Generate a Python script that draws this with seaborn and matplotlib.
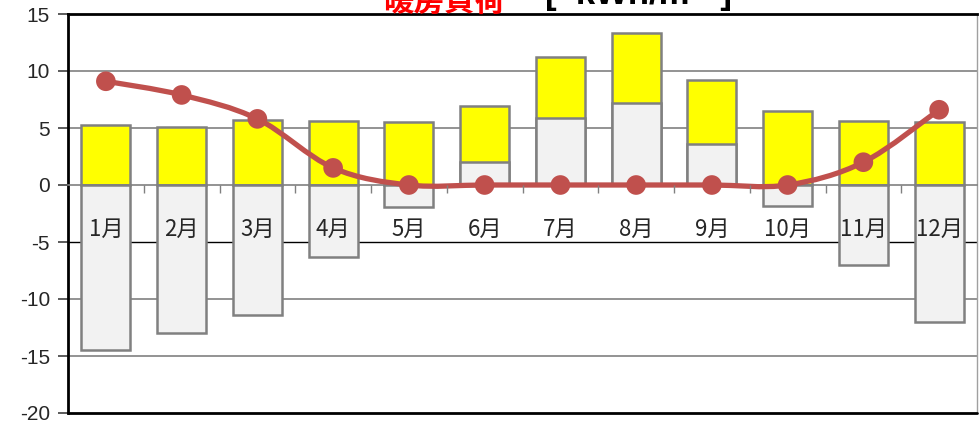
import numpy as np
import matplotlib
matplotlib.use("Agg")
import matplotlib.pyplot as plt
from matplotlib.path import Path
from matplotlib.patches import PathPatch
import seaborn as sns

# ---- data ----
months = ["1月", "2月", "3月", "4月", "5月", "6月", "7月", "8月", "9月", "10月", "11月", "12月"]
gray_vals = [-14.5, -13.0, -11.4, -6.3, -1.9, 2.0, 5.9, 7.2, 3.6, -1.8, -7.0, -12.0]
yellow_vals = [5.3, 5.1, 5.7, 5.6, 5.5, 4.9, 5.3, 6.1, 5.6, 6.5, 5.6, 5.5]
line_vals = [9.1, 7.9, 5.8, 1.5, 0.0, 0.0, 0.0, 0.0, 0.0, 0.0, 2.0, 6.6]
title_red = "暖房負荷"
title_black = "[  kWh/m²  ]"
yticks = [-20, -15, -10, -5, 0, 5, 10, 15]

sns.set_theme(style="white")
plt.rcParams["font.family"] = ["Liberation Sans", "Noto Sans CJK JP", "DejaVu Sans"]

fig = plt.figure(figsize=(9.8, 4.25), dpi=100)
ax = fig.add_axes([68 / 980, 12 / 425, (977 - 68) / 980, (412 - 13) / 425])

# stacked bars: yellow drawn full height first, gray on top
totals = [max(g, 0) + y for g, y in zip(gray_vals, yellow_vals)]
sns.barplot(x=months, y=totals, color="#FFFF00", saturation=1, width=0.65,
            edgecolor="#808080", linewidth=1.8, ax=ax, zorder=2)
sns.barplot(x=months, y=gray_vals, color="#F2F2F2", saturation=1, width=0.65,
            edgecolor="#808080", linewidth=1.8, ax=ax, zorder=3)

# gridlines
for v in [10, 5, -10, -15]:
    ax.axhline(v, color="#808080", lw=1.2, zorder=0.5)
ax.axhline(-5, color="#000000", lw=1.0, zorder=0.5)
ax.axhline(-20, color="#000000", lw=2.0, zorder=5, clip_on=False)

# smoothed line (Catmull-Rom -> Bezier)
xs = np.arange(len(line_vals), dtype=float)
ys = np.array(line_vals, dtype=float)
P = np.column_stack([xs, ys])
Pext = np.vstack([P[0], P, P[-1]])
verts = [tuple(P[0])]
codes = [Path.MOVETO]
for i in range(len(P) - 1):
    p0, p1, p2, p3 = Pext[i], Pext[i + 1], Pext[i + 2], Pext[i + 3]
    c1 = p1 + (p2 - p0) / 6.0
    c2 = p2 - (p3 - p1) / 6.0
    verts += [tuple(c1), tuple(c2), tuple(p2)]
    codes += [Path.CURVE4, Path.CURVE4, Path.CURVE4]
ax.add_patch(PathPatch(Path(verts, codes), facecolor="none", edgecolor="#C0504D",
                       lw=3.8, zorder=6, capstyle="round", joinstyle="round"))
sns.scatterplot(x=xs, y=ys, s=200, color="#C0504D", edgecolor="none", zorder=7, ax=ax)

ax.set_xlim(-0.5, 11.5)
ax.set_ylim(-20, 15)
ax.set_yticks(yticks)
ax.set_yticklabels([str(v) for v in yticks], fontsize=15, family="Liberation Sans")
ax.tick_params(axis="y", direction="out", length=7, width=1.2, color="#404040", pad=6, left=True)

# category axis at zero
ax.spines["bottom"].set_position(("data", 0))
ax.spines["bottom"].set_color("#808080")
ax.spines["bottom"].set_linewidth(1.2)
ax.spines["bottom"].set_zorder(4)
ax.set_xticks(range(len(months)))
ax.set_xticklabels(months, fontsize=16, family=["Noto Sans CJK JP"])
ax.tick_params(axis="x", which="major", length=0, pad=24)
ax.set_xticks(np.arange(0.5, 11, 1.0), minor=True)
ax.tick_params(axis="x", which="minor", direction="out", length=6, width=1.0, color="#808080", bottom=True)
ax.xaxis.set_zorder(8)

ax.spines["left"].set_color("#000000")
ax.spines["left"].set_linewidth(2.0)
ax.spines["top"].set_color("#000000")
ax.spines["top"].set_linewidth(2.0)
ax.spines["right"].set_color("#A0A0A0")
ax.spines["right"].set_linewidth(1.0)
ax.set_xlabel("")
ax.set_ylabel("")

fig.text(505 / 980, 1 - 11 / 425, title_red, color="#FF0000", fontsize=22, fontweight="bold",
         ha="right", va="baseline", family=["Noto Sans CJK JP"])
fig.text(545 / 980, 1 - 4 / 425, title_black, color="#000000", fontsize=25, fontweight="bold",
         ha="left", va="baseline", family=["Liberation Sans", "DejaVu Sans"])

fig.savefig("out.png", dpi=100)
